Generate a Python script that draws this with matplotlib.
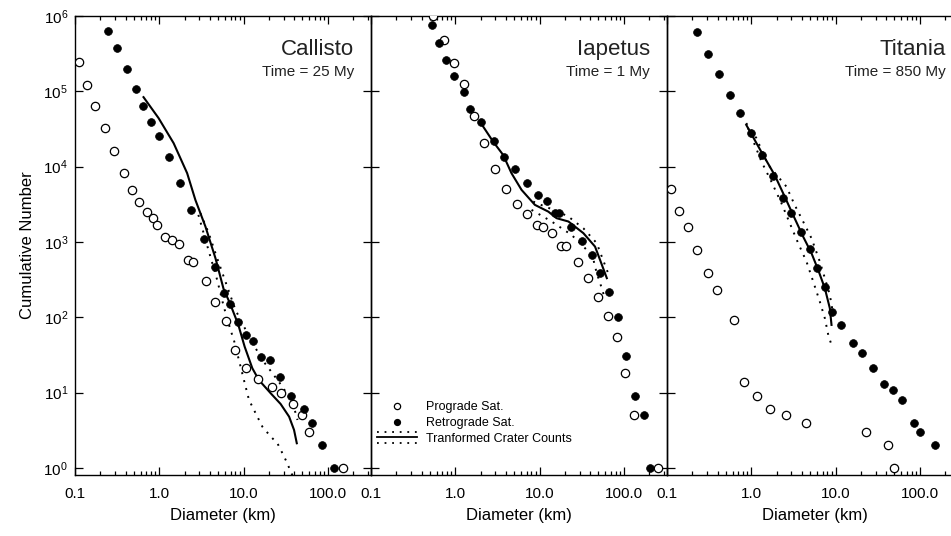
import matplotlib
matplotlib.use("Agg")
import matplotlib.pyplot as plt
from matplotlib.legend_handler import HandlerBase
from matplotlib.lines import Line2D
from matplotlib.ticker import NullLocator, LogLocator, FixedLocator, FixedFormatter

plt.rcParams['font.family'] = ['Liberation Sans', 'DejaVu Sans']
plt.rcParams['axes.linewidth'] = 1.0

# Callisto
cal_pro_d = [0.112, 0.140, 0.172, 0.228, 0.294, 0.380, 0.481, 0.582, 0.714, 0.832, 0.946, 1.18, 1.42,
             1.70, 2.17, 2.54, 3.60, 4.64, 6.11, 7.97, 10.8, 15.0, 22.0, 28.1, 39.1, 48.7, 59.9, 150]
cal_pro_n = [2.44e5, 1.22e5, 6.48e4, 3.25e4, 1.62e4, 8350, 4870, 3380, 2510, 2070, 1700, 1180, 1070,
             944, 578, 549, 304, 162, 90, 37, 21, 15, 12, 10, 7, 5, 3, 1]
cal_ret_d = [0.247, 0.319, 0.416, 0.532, 0.646, 0.796, 1.0, 1.29, 1.75, 2.41, 3.37, 4.64, 5.78, 6.95,
             8.65, 10.8, 12.9, 15.9, 20.6, 27.0, 36.3, 52.3, 64.5, 84.9, 119]
cal_ret_n = [6.36e5, 3.75e5, 1.97e5, 1.09e5, 6.42e4, 3.97e4, 2.54e4, 1.36e4, 6090, 2690, 1100, 464, 213,
             149, 88, 58, 48, 30, 27, 16, 9, 6, 4, 2, 1]
cal_fit_d = [0.650, 0.981, 1.48, 2.14, 2.68, 3.53, 4.64, 5.78, 6.95, 8.65, 10.3, 12.7, 15.2, 21.0,
             27.5, 34.7, 39.7, 42.8]
cal_fit_n = [8.37e4, 4.41e4, 2.05e4, 8200, 3620, 1600, 609, 240, 150, 80, 40.8, 21.1, 14.7, 9.8,
             7.08, 4.80, 3.20, 2.13]
cal_hi_d = [3.08, 3.86, 4.86, 6.39, 8.03, 10.6, 13.9, 16.7, 22.0, 28.9, 36.3, 41.6, 43.6]
cal_hi_n = [2410, 1310, 609, 256, 125, 68, 38.9, 27.2, 18.1, 12.0, 8.0, 5.33, 4.34]
cal_lo_d = [2.91, 3.83, 4.86, 5.82, 7.0, 7.67, 8.80, 10.1, 11.6, 13.9, 16.7, 21.0, 25.2, 28.9, 33.1, 36.3, 38.0]
cal_lo_n = [2290, 785, 314, 139, 68, 50.1, 27.2, 14.7, 8.0, 5.33, 3.54, 2.61, 2.13, 1.57, 1.15, 0.885, 0.8]

# Iapetus
iap_pro_d = [0.543, 0.733, 0.955, 1.26, 1.65, 2.17, 2.97, 3.97, 5.47, 7.06, 9.21, 11.1, 14.0, 17.8,
             20.4, 28.3, 38.0, 49.4, 64.5, 81.9, 104, 133, 252]
iap_pro_n = [1.0e6, 4.73e5, 2.41e5, 1.26e5, 4.77e4, 2.05e4, 9440, 5070, 3210, 2360, 1670, 1570, 1310,
             896, 880, 549, 331, 188, 105, 54, 18, 5, 1]
iap_ret_d = [0.528, 0.633, 0.781, 0.955, 1.26, 1.51, 2.02, 2.86, 3.76, 5.18, 7.14, 9.66, 12.1, 15.2,
             17.2, 23.4, 31.6, 41.6, 52.2, 66.8, 84.9, 107, 135, 172, 206]
iap_ret_n = [7.64e5, 4.37e5, 2.62e5, 1.59e5, 9.94e4, 5.86e4, 3.90e4, 2.20e4, 1.36e4, 9270, 6150, 4220,
             3510, 2460, 2410, 1570, 1040, 668, 392, 215, 100, 31, 9, 5, 1]
iap_fit_d = [2.14, 2.81, 3.70, 4.64, 6.11, 8.80, 12.7, 15.9, 22.0, 33.1, 45.5, 52.2, 62.8]
iap_fit_n = [3.41e4, 2.15e4, 1.43e4, 8200, 4920, 3110, 2530, 2070, 1870, 1310, 869, 578, 331]
iap_hi_d = [8.41, 11.6, 15.9, 22.0, 33.1, 47.7, 54.7, 66.2]
iap_hi_n = [3440, 2950, 2590, 2170, 1520, 964, 640, 366]
iap_lo_d = [8.03, 13.9, 24.0, 36.3, 43.6, 47.7, 52.3, 59.4]
iap_lo_n = [2670, 1870, 1240, 785, 578, 385, 284, 181]

# Titania
tit_pro_d = [0.112, 0.140, 0.176, 0.224, 0.305, 0.391, 0.617, 0.811, 1.16, 1.68, 2.61, 4.40, 22.8, 42.4, 49.0]
tit_pro_n = [5020, 2590, 1570, 778, 385, 231, 92, 14, 9, 6, 5, 4, 3, 2, 1]
tit_ret_d = [0.226, 0.305, 0.412, 0.552, 0.733, 1.0, 1.35, 1.83, 2.40, 2.99, 3.86, 4.94, 5.99, 7.46,
             9.14, 11.6, 16.1, 20.6, 28.1, 38.0, 48.1, 62.2, 84.1, 99.1, 152]
tit_ret_n = [6.11e5, 3.15e5, 1.71e5, 9.07e4, 5.18e4, 2.79e4, 1.43e4, 7620, 3890, 2410, 1370, 802, 453,
             251, 117, 78, 45, 34, 21, 13, 11, 8, 4, 3, 2]
tit_fit_d = [0.871, 1.38, 1.89, 2.49, 3.13, 4.12, 5.18, 6.22, 7.46, 8.55, 8.95]
tit_fit_n = [3.59e4, 1.43e4, 7780, 4010, 2290, 1180, 710, 426, 243, 132, 79.3]
tit_hi_d = [0.871, 1.15, 1.58, 2.61, 3.27, 4.12, 5.18, 6.50, 7.46, 8.55, 9.39]
tit_hi_n = [3.78e4, 2.39e4, 1.06e4, 5440, 3110, 1870, 1120, 549, 331, 198, 108]
tit_lo_d = [0.914, 1.32, 1.73, 2.28, 2.86, 3.60, 4.52, 5.43, 6.50, 7.46, 8.19, 8.95]
tit_lo_n = [3.27e4, 1.17e4, 6340, 3270, 1780, 964, 549, 298, 162, 97.2, 58.4, 43.0]

names = ["Callisto", "Iapetus", "Titania"]
times = ["Time = 25 My", "Time = 1 My", "Time = 850 My"]
xticks = [0.1, 1, 10, 100]
xtick_labels = ["0.1", "1.0", "10.0", "100.0"]

panels = [
    (cal_pro_d, cal_pro_n, cal_ret_d, cal_ret_n, cal_fit_d, cal_fit_n, cal_hi_d, cal_hi_n, cal_lo_d, cal_lo_n),
    (iap_pro_d, iap_pro_n, iap_ret_d, iap_ret_n, iap_fit_d, iap_fit_n, iap_hi_d, iap_hi_n, iap_lo_d, iap_lo_n),
    (tit_pro_d, tit_pro_n, tit_ret_d, tit_ret_n, tit_fit_d, tit_fit_n, tit_hi_d, tit_hi_n, tit_lo_d, tit_lo_n),
]

DOT = (0, (1, 3.2))


class CraterHandler(HandlerBase):
    # solid line between two dotted ones
    def create_artists(self, legend, orig_handle, xdescent, ydescent, width, height, fontsize, trans):
        y0 = height / 2 - ydescent
        arts = []
        for off, ls in ((0.65, DOT), (0.0, '-'), (-0.65, DOT)):
            ln = Line2D([-xdescent, width - xdescent], [y0 + off * height] * 2,
                        color='k', lw=1.3, linestyle=ls)
            ln.set_transform(trans)
            arts.append(ln)
        return arts


fig = plt.figure(figsize=(9.51, 5.36), dpi=100)
lefts = [75 / 951, 371 / 951, 667 / 951]
W = 296 / 951
B = 61 / 536
H = 459 / 536

for i, (pd, pn, rd, rn, fd, fn, hd, hn, ld, ln_) in enumerate(panels):
    ax = fig.add_axes([lefts[i], B, W, H])
    ax.patch.set_visible(False)  # keep the neighbour's spine visible
    ax.set_xscale('log')
    ax.set_yscale('log')
    ax.set_xlim(0.1, 325)
    ax.set_ylim(0.807, 1.0e6)

    ax.plot(fd, fn, color='k', lw=1.5, zorder=2)
    ax.plot(hd, hn, color='k', lw=1.4, linestyle=DOT, zorder=2)
    ax.plot(ld, ln_, color='k', lw=1.4, linestyle=DOT, zorder=2)
    ax.plot(pd, pn, ls='none', marker='o', ms=6, mfc='white', mec='k', mew=0.9, zorder=3)
    ax.plot(rd, rn, ls='none', marker='o', ms=5.6, mfc='k', mec='k', mew=0.5, zorder=3)

    ax.xaxis.set_major_locator(FixedLocator(xticks))
    ax.xaxis.set_major_formatter(FixedFormatter(xtick_labels))
    ax.xaxis.set_minor_locator(LogLocator(base=10, subs=range(2, 10), numticks=20))
    ax.yaxis.set_major_locator(LogLocator(base=10, numticks=10))
    ax.yaxis.set_minor_locator(NullLocator())
    ax.tick_params(which='both', direction='in', top=True, right=(i < 2), width=0.9)
    ax.tick_params(which='major', length=6)
    ax.tick_params(which='minor', length=3)
    ax.tick_params(axis='x', labelsize=11, pad=9)
    ax.tick_params(axis='y', labelsize=11, pad=5)
    if i > 0:
        ax.tick_params(axis='y', labelleft=False)
    else:
        ax.set_ylabel("Cumulative Number", fontsize=12, labelpad=6)
    if i == 2:
        ax.spines['right'].set_visible(False)
    ax.set_xlabel("Diameter (km)", fontsize=12, labelpad=5)

    ax.text(0.942, 0.926, names[i], transform=ax.transAxes, ha='right', va='center',
            fontsize=16, color='#222222')
    ax.text(0.942, 0.878, times[i], transform=ax.transAxes, ha='right', va='center',
            fontsize=11, color='#222222')

    if i == 1:
        h_pro = Line2D([], [], ls='none', marker='o', ms=6, mfc='white', mec='k', mew=0.9)
        h_ret = Line2D([], [], ls='none', marker='o', ms=5.6, mfc='k', mec='k')
        h_fit = Line2D([], [], color='k')
        ax.legend([h_pro, h_ret, h_fit],
                  ["Prograde Sat.", "Retrograde Sat.", "Tranformed Crater Counts"],
                  handler_map={h_fit: CraterHandler()},
                  loc='lower left', bbox_to_anchor=(0.005, 0.055), borderaxespad=0,
                  frameon=False, fontsize=9, handlelength=3.2, handletextpad=0.7,
                  labelspacing=0.3, markerscale=0.75, numpoints=1)

fig.savefig("out.png", dpi=100, facecolor='white')
